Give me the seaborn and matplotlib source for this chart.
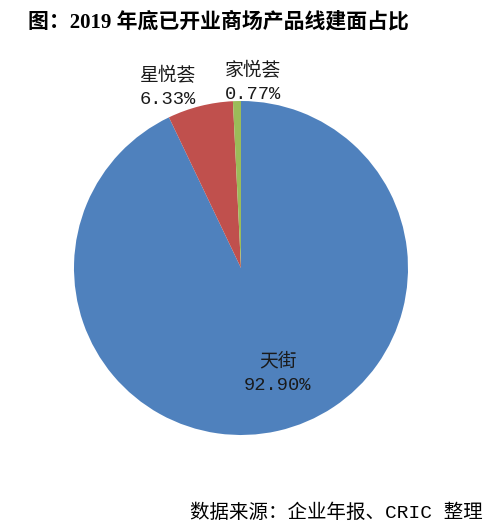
import matplotlib
matplotlib.use("Agg")
import matplotlib.pyplot as plt
import seaborn as sns

products = ["天街", "星悦荟", "家悦荟"]
shares = [92.90, 6.33, 0.77]
colors = ["#4F81BD", "#C0504D", "#9BBB59"]
# label centres in axes data units (pie radius = 1)
label_pos = [(0.22, -0.63), (-0.44, 1.08), (0.07, 1.11)]

sns.set_theme(style="white")
cjk_mono = ["Liberation Mono", "Noto Sans CJK SC"]
cjk_serif = ["Liberation Serif", "Noto Sans CJK SC"]

fig = plt.figure(figsize=(5.01, 5.29), dpi=100)
ax = fig.add_axes([74 / 501, (529 - 435) / 529, 334 / 501, 334 / 529])

ax.pie(shares, colors=colors, startangle=90, counterclock=False,
       wedgeprops=dict(linewidth=0))
ax.set_xlim(-1, 1)
ax.set_ylim(-1, 1)
ax.axis("off")

for name, val, (x, y) in zip(products, shares, label_pos):
    ax.text(x, y, f"{name}\n{val:.2f}%", ha="center", va="center",
            fontsize=13.5, family=cjk_mono, color="#1a1a1a",
            linespacing=1.5, clip_on=False)

fig.text(28 / 501, 1 - 22 / 529, "图：2019 年底已开业商场产品线建面占比",
         ha="left", va="center", fontsize=15, fontweight="bold",
         family=cjk_serif, color="black")
fig.text(483 / 501, 1 - 513 / 529, "数据来源：企业年报、CRIC 整理",
         ha="right", va="center", fontsize=14, family=cjk_mono, color="black")

fig.savefig("out.png", dpi=100)
